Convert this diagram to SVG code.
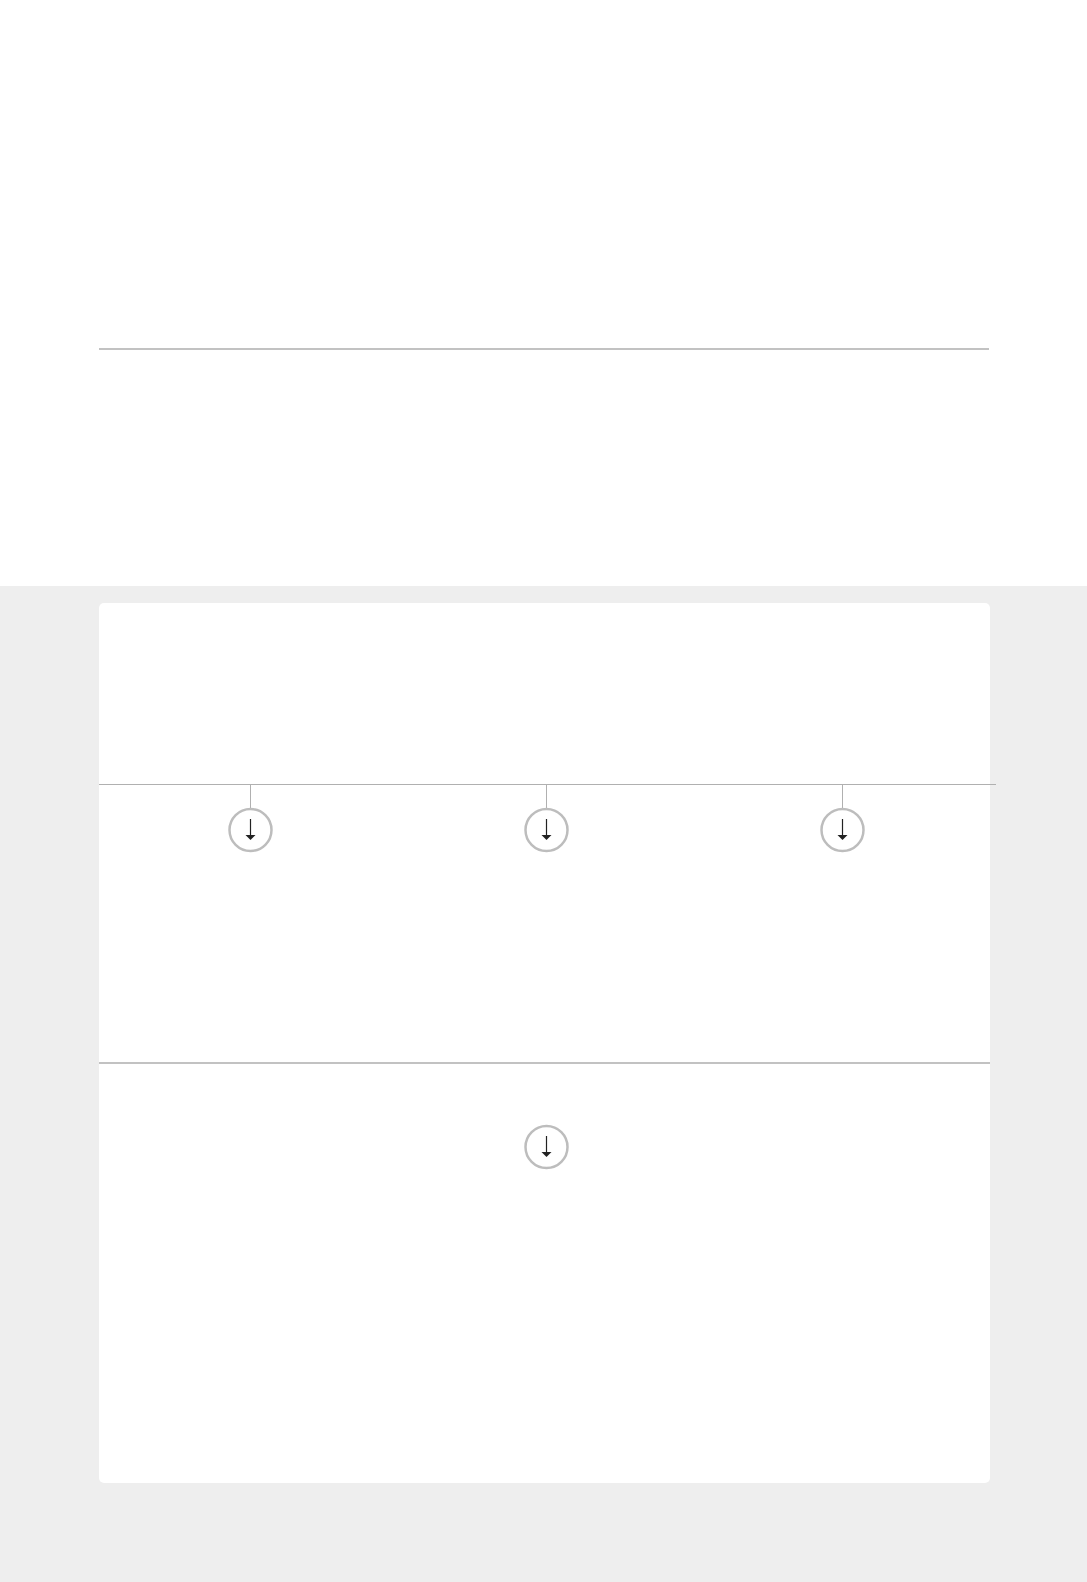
<svg xmlns="http://www.w3.org/2000/svg" width="1087" height="1582" viewBox="0 0 1087 1582">
  <style>
    .rule { stroke: #c2c2c2; stroke-width: 2; fill: none; }
    .thin { stroke: #b0b0b0; stroke-width: 1; fill: none; }
    .ring { fill: #ffffff; stroke: #bdbdbd; stroke-width: 2.5; }
    .stem { stroke: #222222; stroke-width: 1.2; }
    .tip { fill: #222222; }
  </style>
  <defs>
    <g id="downIcon">
      <circle class="ring" cx="0" cy="0" r="21"/>
      <line class="stem" x1="0" y1="-11" x2="0" y2="6"/>
      <polygon class="tip" points="-5,5 5,5 0,10"/>
    </g>
  </defs>
  <rect x="0" y="0" width="1087" height="1582" fill="#ffffff"/>
  <g id="header">
    <line class="rule" x1="99" y1="349" x2="989" y2="349"/>
  </g>
  <g id="band">
    <rect x="0" y="586" width="1087" height="996" fill="#eeeeee"/>
  </g>
  <g id="card">
    <rect x="99" y="603" width="891" height="880" rx="5" ry="5" fill="#ffffff"/>
  </g>
  <g id="connectors">
    <line class="thin" x1="99" y1="784.5" x2="996" y2="784.5"/>
    <line class="thin" x1="250.5" y1="784.5" x2="250.5" y2="809"/>
    <line class="thin" x1="546.5" y1="784.5" x2="546.5" y2="809"/>
    <line class="thin" x1="842.5" y1="784.5" x2="842.5" y2="809"/>
    <line class="rule" x1="99" y1="1063" x2="990" y2="1063"/>
  </g>
  <g id="node1"><use href="#downIcon" x="250.5" y="830"/></g>
  <g id="node2"><use href="#downIcon" x="546.5" y="830"/></g>
  <g id="node3"><use href="#downIcon" x="842.5" y="830"/></g>
  <g id="node4"><use href="#downIcon" x="546.5" y="1147"/></g>
</svg>
